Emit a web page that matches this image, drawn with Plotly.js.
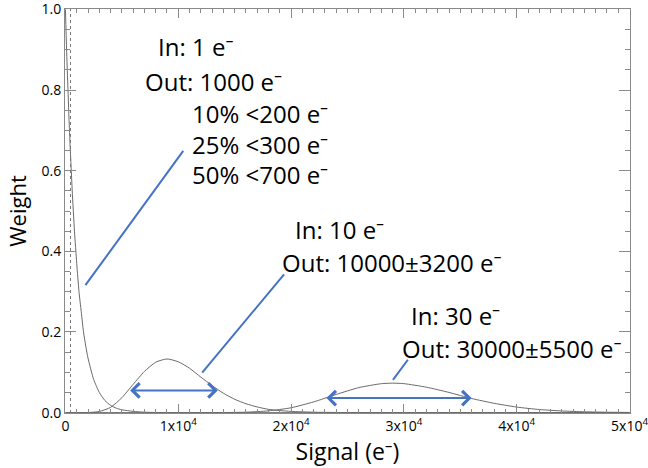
<!DOCTYPE html>
<html>
<head>
<meta charset="utf-8">
<script src="https://cdn.plot.ly/plotly-3.0.1.min.js"></script>
<style>html,body{margin:0;padding:0;background:#fff;}#chart{width:648px;height:468px;}</style>
</head>
<body>
<div id="chart"></div>
<script>
// In: 1 e- (exponential-like response)
const signal1 = [0,100,200,300,400,500,600,800,1000,1200,1400,1600,1800,2000,2500,3000,3500,4000,4500,5000,6000,7000,8000,10000,50000];
const weight1 = [1.0,0.90,0.82,0.74,0.67,0.61,0.55,0.45,0.37,0.30,0.25,0.20,0.165,0.135,0.082,0.05,0.03,0.018,0.011,0.007,0.003,0.001,0.0003,0,0];
// In: 10 e-
const signal2 = [0,1000,2000,3000,4000,5000,6000,7000,8000,9000,10000,11000,12000,13000,14000,15000,16000,17000,18000,19000,20000,22000,24000,26000,30000,50000];
const weight2 = [0,0,0.0002,0.0027,0.013,0.037,0.070,0.102,0.125,0.133,0.126,0.110,0.088,0.067,0.048,0.033,0.022,0.014,0.008,0.005,0.003,0.001,0.0003,0.0001,0,0];
// In: 30 e-
const signal3 = [0,10000,14000,16000,18000,20000,22000,24000,26000,28000,29000,30000,32000,34000,36000,38000,40000,42000,44000,46000,48000,50000];
const weight3 = [0,0,0.0002,0.001,0.0043,0.012,0.0265,0.045,0.062,0.0717,0.073,0.0718,0.063,0.050,0.035,0.023,0.0137,0.0076,0.004,0.002,0.0009,0.0004];
// reference dotted line
const refLineX = [450];
// tick labels
const xTickVals = [0,10000,20000,30000,40000,50000];
const xTickText = ['0','1x10<sup>4</sup>','2x10<sup>4</sup>','3x10<sup>4</sup>','4x10<sup>4</sup>','5x10<sup>4</sup>'];
const yTickVals = [0,0.2,0.4,0.6,0.8,1.0];
const yTickText = ['0.0','0.2','0.4','0.6','0.8','1.0'];

const FONT = 'Open Sans, Noto Sans, DejaVu Sans, sans-serif';
const BLUE = '#4472C4';
const CURVE = '#6a6a6a';
const AXIS = '#8a8a8a';

const mk = (x, y) => ({x: x, y: y, type: 'scatter', mode: 'lines', line: {color: CURVE, width: 1, shape: 'spline', smoothing: 0.6}, hoverinfo: 'skip', showlegend: false});
const data = [mk(signal1, weight1), mk(signal2, weight2), mk(signal3, weight3)];

const txt = (text, x, y, anchor) => ({text: text, xref: 'paper', yref: 'paper', x: x, y: y, xanchor: anchor || 'center', yanchor: 'middle', showarrow: false, font: {family: FONT, size: 24, color: '#000'}});
const dbl = (x0, x1, y) => ({xref: 'x', yref: 'y', axref: 'x', ayref: 'y', x: x1, y: y, ax: x0, ay: y, text: '', showarrow: true, arrowside: 'end+start', arrowhead: 4, startarrowhead: 4, arrowsize: 1.4, startarrowsize: 1.4, arrowwidth: 2, arrowcolor: BLUE, standoff: 0, startstandoff: 0});

const annotations = [
  txt('In: 1 e⁻', 0.232, 0.906),
  txt('Out: 1000 e⁻', 0.262, 0.820),
  txt('10% &lt;200 e⁻', 0.222, 0.741, 'left'),
  txt('25% &lt;300 e⁻', 0.222, 0.665, 'left'),
  txt('50% &lt;700 e⁻', 0.222, 0.591, 'left'),
  txt('In: 10 e⁻', 0.4867, 0.453),
  txt('Out: 10000±3200 e⁻', 0.5788, 0.372),
  txt('In: 30 e⁻', 0.692, 0.241),
  txt('Out: 30000±5500 e⁻', 0.791, 0.160),
  dbl(5600, 13500, 0.055),
  dbl(23000, 36000, 0.036)
];

const ln = (x0, y0, x1, y1) => ({type: 'line', xref: 'x', yref: 'y', x0: x0, y0: y0, x1: x1, y1: y1, line: {color: BLUE, width: 2}});
const shapes = [
  {type: 'line', xref: 'x', yref: 'paper', x0: refLineX[0], x1: refLineX[0], y0: 0, y1: 1, line: {color: '#777', width: 1, dash: 'dot'}},
  ln(1770, 0.316, 10440, 0.649),
  ln(12120, 0.099, 19380, 0.343),
  ln(29030, 0.081, 30350, 0.131)
];

const layout = {
  width: 648, height: 468,
  margin: {l: 65, r: 18, t: 9, b: 55},
  paper_bgcolor: '#fff', plot_bgcolor: '#fff',
  font: {family: FONT, color: '#000'},
  showlegend: false,
  xaxis: {
    range: [-40, 50040], tickmode: 'array', tickvals: xTickVals, ticktext: xTickText,
    ticks: 'inside', ticklen: 9, tickwidth: 1, tickcolor: AXIS,
    ticklabeloverflow: 'allow',
    minor: {dtick: 1000, ticks: 'inside', ticklen: 4, tickcolor: AXIS, showgrid: false},
    showline: true, linecolor: AXIS, linewidth: 1, mirror: 'ticks',
    showgrid: false, zeroline: false,
    tickfont: {family: FONT, size: 14, color: '#000'},
    title: {text: 'Signal (e⁻)', font: {family: FONT, size: 23, color: '#000'}, standoff: 6}
  },
  yaxis: {
    range: [-0.001, 1.001], tickmode: 'array', tickvals: yTickVals, ticktext: yTickText,
    ticks: 'inside', ticklen: 11, tickwidth: 1, tickcolor: AXIS,
    ticklabeloverflow: 'allow',
    minor: {dtick: 0.05, ticks: 'inside', ticklen: 5, tickcolor: AXIS, showgrid: false},
    showline: true, linecolor: AXIS, linewidth: 1, mirror: 'ticks',
    showgrid: false, zeroline: false,
    tickfont: {family: FONT, size: 14, color: '#000'},
    title: {text: 'Weight', font: {family: FONT, size: 22, color: '#000'}, standoff: 8}
  },
  annotations: annotations,
  shapes: shapes
};

Plotly.newPlot('chart', data, layout, {staticPlot: true, displayModeBar: false});
</script>
</body>
</html>
